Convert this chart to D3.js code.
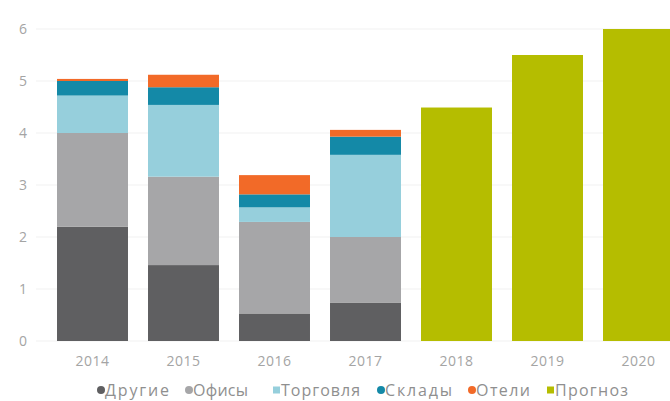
<!DOCTYPE html>
<html><head><meta charset="utf-8">
<script src="https://cdn.jsdelivr.net/npm/d3@7"></script>
<style>body{margin:0;background:#fff}svg{display:block}text{font-family:"Open Sans",sans-serif}</style>
</head><body><svg id="c" width="670" height="401"></svg>
<script>
const years = ["2014","2015","2016","2017","2018","2019","2020"];
const seriesNames = ["Другие","Офисы","Торговля","Склады","Отели","Прогноз"];
const seriesColors = ["#5f5f61","#a6a6a8","#96cfdc","#1489a7","#f26a28","#b5bd00"];
const drugie   = [2.2, 1.46, 0.53, 0.74, 0, 0, 0];
const ofisy    = [1.8, 1.70, 1.76, 1.26, 0, 0, 0];
const torgovlya= [0.72,1.38, 0.28, 1.58, 0, 0, 0];
const sklady   = [0.28,0.34, 0.25, 0.35, 0, 0, 0];
const oteli    = [0.04,0.24, 0.37, 0.13, 0, 0, 0];
const prognoz  = [0, 0, 0, 0, 4.49, 5.5, 6.0];
const yTicks = [0,1,2,3,4,5,6];

const svg = d3.select("#c");
const x = d3.scaleBand().domain(years).range([47, 684]).paddingInner(0.22).paddingOuter(0.11);
const y = d3.scaleLinear().domain([0,6]).range([341, 29]);

svg.append("g").selectAll("line").data(yTicks).join("line")
  .attr("x1",36).attr("x2",670).attr("y1",d=>y(d)).attr("y2",d=>y(d))
  .attr("stroke","#f1f1f1").attr("stroke-width",1);

const rows = years.map((yr,i)=>({year:yr, "Другие":drugie[i],"Офисы":ofisy[i],"Торговля":torgovlya[i],"Склады":sklady[i],"Отели":oteli[i],"Прогноз":prognoz[i]}));
const stacked = d3.stack().keys(seriesNames)(rows);
const color = d3.scaleOrdinal().domain(seriesNames).range(seriesColors);

svg.append("g").selectAll("g").data(stacked).join("g").attr("fill",d=>color(d.key))
  .selectAll("rect").data(d=>d).join("rect")
  .attr("x",d=>x(d.data.year)).attr("width",x.bandwidth())
  .attr("y",d=>y(d[1])).attr("height",d=>Math.max(0,y(d[0])-y(d[1])));

const ya = svg.append("g").attr("transform","translate(27,0)")
  .call(d3.axisLeft(y).tickValues(yTicks).tickSize(0).tickFormat(d3.format("d")));
ya.select(".domain").remove();
ya.selectAll("text").attr("fill","#a4a4a4").attr("font-size",14).attr("x",0).attr("text-anchor","end").attr("dy","0.35em");

const xa = svg.append("g").attr("transform",`translate(0,${y(0)})`)
  .call(d3.axisBottom(x).tickSize(0));
xa.select(".domain").remove();
xa.selectAll("text").attr("fill","#a4a4a4").attr("font-size",14).attr("y",20).attr("dy","0.35em")
  .attr("letter-spacing","0.5px");

const legX = [97,185,273,377,468,547];
const legW = [64,55,79,67,54,73];
const shapes = ["circle","circle","rect","circle","circle","rect"];
const lg = svg.append("g").selectAll("g").data(seriesNames).join("g")
  .attr("transform",(d,i)=>`translate(${legX[i]},390)`);
lg.each(function(d,i){
  const g = d3.select(this);
  if(shapes[i]==="circle") g.append("circle").attr("cx",4).attr("cy",0).attr("r",4).attr("fill",seriesColors[i]);
  else g.append("rect").attr("x",0).attr("y",-3.5).attr("width",7).attr("height",7).attr("fill",seriesColors[i]);
  g.append("text").attr("x",8).attr("y",0).attr("dy","0.35em").attr("font-size",16).attr("fill","#8f8f8f")
    .attr("textLength",legW[i]).attr("lengthAdjust","spacing").text(d);
});
</script></body></html>
